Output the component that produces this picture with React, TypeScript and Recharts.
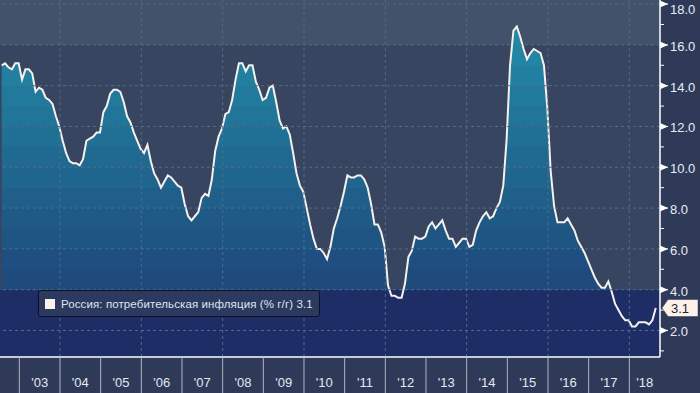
import { ComposedChart, Area, XAxis, YAxis, CartesianGrid, ReferenceLine } from 'recharts';

// Россия: ИПЦ, % г/г, помесячно с июля 2002 по август 2018
const START_YEAR = 2002;
const START_MONTH = 7;
const cpi2002 = [15.0, 15.1, 14.9, 14.8, 15.1, 15.1];
const cpi2003 = [14.3, 14.8, 14.8, 14.6, 13.7, 13.9, 13.8, 13.4, 13.3, 13.1, 12.5, 12.0];
const cpi2004 = [11.3, 10.7, 10.3, 10.2, 10.2, 10.1, 10.4, 11.3, 11.4, 11.5, 11.7, 11.7];
const cpi2005 = [12.7, 13.0, 13.6, 13.8, 13.8, 13.7, 13.2, 12.5, 12.2, 11.7, 11.3, 10.9];
const cpi2006 = [10.7, 11.1, 10.3, 9.7, 9.4, 9.0, 9.3, 9.6, 9.5, 9.3, 9.1, 9.0];
const cpi2007 = [8.2, 7.6, 7.4, 7.6, 7.8, 8.5, 8.7, 8.6, 9.4, 10.8, 11.5, 11.9];
const cpi2008 = [12.6, 12.7, 13.3, 14.3, 15.1, 15.1, 14.7, 15.0, 15.0, 14.2, 13.8, 13.3];
const cpi2009 = [13.4, 13.9, 14.0, 13.2, 12.3, 11.9, 12.0, 11.6, 10.7, 9.7, 9.1, 8.8];
const cpi2010 = [8.0, 7.2, 6.5, 6.0, 6.0, 5.8, 5.5, 6.1, 7.0, 7.5, 8.1, 8.8];
const cpi2011 = [9.6, 9.5, 9.5, 9.6, 9.6, 9.4, 9.0, 8.2, 7.2, 7.2, 6.8, 6.1];
const cpi2012 = [4.2, 3.7, 3.7, 3.6, 3.6, 4.3, 5.6, 5.9, 6.6, 6.5, 6.5, 6.6];
const cpi2013 = [7.1, 7.3, 7.0, 7.2, 7.4, 6.9, 6.5, 6.5, 6.1, 6.3, 6.5, 6.5];
const cpi2014 = [6.1, 6.2, 6.9, 7.3, 7.6, 7.8, 7.5, 7.6, 8.0, 8.3, 9.1, 11.4];
const cpi2015 = [15.0, 16.7, 16.9, 16.4, 15.8, 15.3, 15.6, 15.8, 15.7, 15.6, 15.0, 12.9];
const cpi2016 = [9.8, 8.1, 7.3, 7.3, 7.3, 7.5, 7.2, 6.9, 6.4, 6.1, 5.8, 5.4];
const cpi2017 = [5.0, 4.6, 4.3, 4.1, 4.1, 4.4, 3.9, 3.3, 3.0, 2.7, 2.5, 2.5];
const cpi2018 = [2.2, 2.2, 2.4, 2.4, 2.4, 2.3, 2.5, 3.1];

const cpi = [
  ...cpi2002, ...cpi2003, ...cpi2004, ...cpi2005, ...cpi2006, ...cpi2007,
  ...cpi2008, ...cpi2009, ...cpi2010, ...cpi2011, ...cpi2012, ...cpi2013,
  ...cpi2014, ...cpi2015, ...cpi2016, ...cpi2017, ...cpi2018,
];

const yearTicks = [2003, 2004, 2005, 2006, 2007, 2008, 2009, 2010, 2011, 2012, 2013, 2014, 2015, 2016, 2017, 2018];
const yearLabels = ["'03", "'04", "'05", "'06", "'07", "'08", "'09", "'10", "'11", "'12", "'13", "'14", "'15", "'16", "'17", "'18"];
const gridYears = [2004, 2006, 2008, 2010, 2012, 2014, 2016, 2018];
const majorTicks = [2, 4, 6, 8, 10, 12, 14, 16, 18];
const minorTicks = [1, 3, 5, 7, 9, 11, 13, 15, 17];

const SERIES_NAME = 'Россия: потребительская инфляция (% г/г)';
const LAST = cpi[cpi.length - 1];

const W = 700;
const H = 393;
const AXIS_W = 40;
const AXIS_H = 36;
const PLOT_W = W - AXIS_W;
const PLOT_H = H - AXIS_H;
const X_MIN = 2002.525;
const X_MAX = 2018.754;
const Y_MIN = 0.7;
const Y_MAX = 18.2;
const PX_PER_YEAR = PLOT_W / (X_MAX - X_MIN);

const FONT = '"Liberation Sans", Arial, sans-serif';
const BG_TOP = '#42526b';
const BG_MID = '#384560';
const BG_LOW = '#1e2d65';
const AXIS_BG = '#2e3a57';
const GRID = '#4f6c8c';

const data = cpi.map((v, i) => {
  const m = START_MONTH - 1 + i;
  return { t: START_YEAR + Math.floor(m / 12) + ((m % 12) + 0.8) / 12, v };
});

// fill bands, one colour per unit between 4 and 17
const bandStops = () => {
  const lo = [30, 74, 124];
  const hi = [34, 138, 166];
  const off = (v: number) => (Y_MAX - v) / (Y_MAX - Y_MIN);
  const stops: { o: number; c: string }[] = [];
  for (let k = 17; k >= 4; k--) {
    const f = Math.min(1, (k - 4) / 12);
    const c = `rgb(${lo.map((a, j) => Math.round(a + (hi[j] - a) * f)).join(',')})`;
    stops.push({ o: off(k === 17 ? Y_MAX : k + 1), c });
    stops.push({ o: off(k), c });
  }
  stops.push({ o: off(4), c: BG_LOW });
  stops.push({ o: 1, c: BG_LOW });
  return stops;
};

function YearTick(props: any) {
  const { x, y, payload } = props;
  const yr = payload.value as number;
  const end = Math.min(yr + 1, X_MAX);
  const mid = x + ((end - yr) / 2) * PX_PER_YEAR;
  const label = yearLabels[yearTicks.indexOf(yr)];
  return (
    <g>
      <line x1={x} x2={x} y1={y} y2={y + AXIS_H} stroke="#aeb6c4" strokeWidth={1} />
      <text x={mid} y={y + 30} textAnchor="middle" fill="#e4e8f0" fontSize={13} fontFamily={FONT}>
        {label}
      </text>
    </g>
  );
}

function ValueTick(props: any) {
  const { x, y, payload } = props;
  const v = payload.value as number;
  if (v === LAST) {
    return (
      <g>
        <path
          d={`M${x + 2},${y} L${x + 8},${y - 8.5} L${x + 38},${y - 8.5} L${x + 38},${y + 8.5} L${x + 8},${y + 8.5} Z`}
          fill="#fdf1ea"
          stroke="#2e3a57"
          strokeWidth={0.5}
        />
        <text x={x + 11} y={y + 5} fill="#1b2236" fontSize={13} fontFamily={FONT}>
          {LAST.toFixed(1)}
        </text>
      </g>
    );
  }
  if (v % 2 === 1) {
    return <line x1={x} x2={x + 4} y1={y} y2={y} stroke="#ffffff" strokeWidth={1} />;
  }
  return (
    <g>
      <path d={`M${x},${y - 3.5} L${x + 8},${y} L${x},${y + 3.5} Z`} fill="#ffffff" />
      <line x1={x} x2={x + 8} y1={y} y2={y} stroke="#ffffff" strokeWidth={1} />
      <text x={x + 10} y={Math.max(y + 6, 14)} fill="#e8edf6" fontSize={13} fontFamily={FONT}>
        {v.toFixed(1)}
      </text>
    </g>
  );
}

export default function App() {
  const stops = bandStops();
  return (
    <div style={{ position: 'absolute', left: 0, top: 0, width: W, height: H, background: AXIS_BG, fontFamily: FONT }}>
      <ComposedChart width={W} height={H} data={data} margin={{ top: 0, right: 0, bottom: 0, left: 0 }}>
        <defs>
          <linearGradient id="cpiBands" gradientUnits="userSpaceOnUse" x1={0} y1={0} x2={0} y2={PLOT_H}>
            {stops.map((s, i) => (
              <stop key={i} offset={s.o} stopColor={s.c} />
            ))}
          </linearGradient>
        </defs>
        <CartesianGrid
          horizontal
          vertical={false}
          stroke="none"
          horizontalValues={[16, 4]}
          horizontalFill={[BG_TOP, BG_MID, BG_LOW]}
          fillOpacity={1}
        />
        <XAxis
          dataKey="t"
          type="number"
          domain={[X_MIN, X_MAX]}
          allowDataOverflow
          ticks={yearTicks}
          interval={0}
          tick={<YearTick />}
          tickLine={false}
          tickSize={0}
          tickMargin={0}
          height={AXIS_H}
          axisLine={{ stroke: '#ffffff', strokeWidth: 1.5 }}
        />
        <YAxis
          orientation="right"
          type="number"
          domain={[Y_MIN, Y_MAX]}
          allowDataOverflow
          ticks={[...minorTicks, ...majorTicks, LAST]}
          interval={0}
          tick={<ValueTick />}
          tickLine={false}
          tickSize={0}
          tickMargin={0}
          width={AXIS_W}
          axisLine={{ stroke: '#ffffff', strokeWidth: 1.5 }}
        />
        <Area
          type="linear"
          dataKey="v"
          stroke="#f6f1ec"
          strokeWidth={2}
          fill="url(#cpiBands)"
          fillOpacity={1}
          baseValue={Y_MIN}
          dot={false}
          activeDot={false}
          isAnimationActive={false}
        />
        {majorTicks.map((v) => (
          <ReferenceLine key={`h${v}`} y={v} stroke={GRID} strokeDasharray="3 3" strokeWidth={1} />
        ))}
        {gridYears.map((yr) => (
          <ReferenceLine key={`v${yr}`} x={yr} stroke={GRID} strokeDasharray="3 3" strokeWidth={1} />
        ))}
      </ComposedChart>
      <div
        style={{
          position: 'absolute',
          left: 38,
          top: 290,
          height: 25,
          boxSizing: 'content-box',
          padding: '0 6px',
          display: 'flex',
          alignItems: 'center',
          background: '#2b3a5e',
          border: '1px solid #0d1020',
          borderRadius: 3,
          color: '#dfe4ee',
          fontSize: 11.5,
          letterSpacing: 0.1,
          whiteSpace: 'nowrap',
        }}
      >
        <span style={{ display: 'inline-block', width: 10, height: 10, background: '#fdf1ec', marginRight: 6 }} />
        {SERIES_NAME} {LAST.toFixed(1)}
      </div>
    </div>
  );
}
